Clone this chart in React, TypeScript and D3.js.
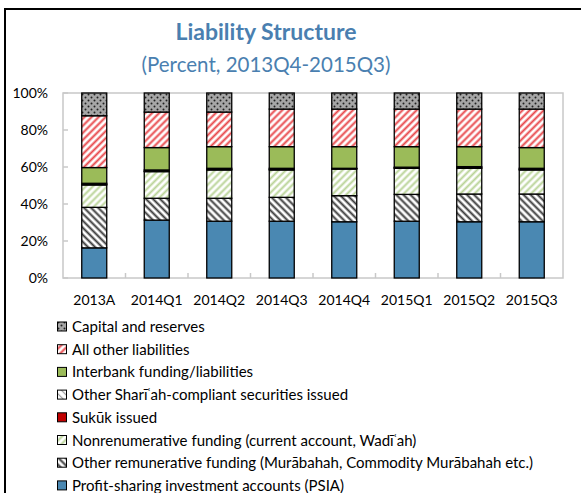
import React, { useEffect, useRef } from 'react';
import * as d3 from 'd3';

const categories = ['2013A', '2014Q1', '2014Q2', '2014Q3', '2014Q4', '2015Q1', '2015Q2', '2015Q3'];

// stacked bottom -> top
const psia = [16.3, 31.3, 30.7, 30.7, 30.4, 30.7, 30.4, 30.4];
const otherRemunerative = [21.9, 11.8, 12.4, 12.9, 14.1, 14.5, 15.0, 15.0];
const nonRemunerative = [12.1, 14.4, 15.3, 14.8, 14.4, 14.1, 13.9, 13.0];
const sukuk = [0.3, 0.3, 0.3, 0.3, 0.2, 0.2, 0.3, 0.3];
const otherShariah = [0.6, 0.6, 0.6, 0.6, 0.2, 0.4, 0.6, 0.6];
const interbank = [8.5, 12.1, 11.7, 11.7, 11.7, 11.1, 10.8, 11.2];
const allOther = [28.0, 19.2, 18.7, 20.3, 20.3, 20.3, 20.3, 20.8];
const capital = [12.3, 10.3, 10.3, 8.7, 8.7, 8.7, 8.7, 8.7];

const seriesNames = [
  'Profit-sharing investment accounts (PSIA)',
  'Other remunerative funding (Murābahah, Commodity Murābahah etc.)',
  'Nonrenumerative funding (current account, Wadīʿah)',
  'Sukūk issued',
  'Other Sharīʿah-compliant securities issued',
  'Interbank funding/liabilities',
  'All other liabilities',
  'Capital and reserves',
];
const seriesValues = [psia, otherRemunerative, nonRemunerative, sukuk, otherShariah, interbank, allOther, capital];
const seriesFills = [
  '#4a88b2',
  'url(#pOtherRem)',
  'url(#pNonRem)',
  '#c00000',
  'url(#pShariah)',
  '#9bbb59',
  'url(#pAllOther)',
  'url(#pCapital)',
];

const yTicks = [0, 20, 40, 60, 80, 100];

const FONT = 'Lato, "Open Sans", sans-serif';

const App = () => {
  const ref = useRef<SVGSVGElement | null>(null);

  useEffect(() => {
    if (!ref.current) return;
    const svg = d3.select(ref.current);
    svg.selectAll('*').remove();

    const left = 63, right = 563, top = 93, bottom = 278;

    const defs = svg.append('defs');
    const stripes = (id: string, color: string, angle: number, w: number, size: number, bg = '#fff') => {
      const p = defs.append('pattern')
        .attr('id', id)
        .attr('patternUnits', 'userSpaceOnUse')
        .attr('width', size).attr('height', size)
        .attr('patternTransform', `rotate(${angle})`);
      p.append('rect').attr('width', size).attr('height', size).attr('fill', bg);
      p.append('line')
        .attr('x1', size / 2).attr('y1', 0).attr('x2', size / 2).attr('y2', size)
        .attr('stroke', color).attr('stroke-width', w);
    };
    stripes('pAllOther', '#e8474a', 45, 2, 5);
    stripes('pNonRem', '#b9d397', 45, 2, 5);
    stripes('pOtherRem', '#3a3a3a', -45, 2, 5);
    stripes('pShariah', '#a0a0a0', -45, 1.2, 5);

    const dots = defs.append('pattern')
      .attr('id', 'pCapital')
      .attr('patternUnits', 'userSpaceOnUse')
      .attr('width', 6).attr('height', 6);
    dots.append('rect').attr('width', 6).attr('height', 6).attr('fill', '#a6a6a6');
    dots.append('circle').attr('cx', 1.5).attr('cy', 1.5).attr('r', 1).attr('fill', '#222');
    dots.append('circle').attr('cx', 4.5).attr('cy', 4.5).attr('r', 1).attr('fill', '#222');

    // outer frame
    svg.append('rect')
      .attr('x', 5).attr('y', 9).attr('width', 700).attr('height', 700)
      .attr('fill', 'none').attr('stroke', '#000').attr('stroke-width', 2);

    // titles
    svg.append('text')
      .attr('x', 266).attr('y', 40)
      .attr('text-anchor', 'middle')
      .attr('font-family', FONT).attr('font-weight', 'bold').attr('font-size', 23)
      .attr('fill', '#4a7fb0')
      .text('Liability Structure');
    svg.append('text')
      .attr('x', 266).attr('y', 72)
      .attr('text-anchor', 'middle')
      .attr('font-family', FONT).attr('font-size', 20.5)
      .attr('fill', '#4a7fb0')
      .text('(Percent, 2013Q4-2015Q3)');

    const x = d3.scaleBand<string>()
      .domain(categories)
      .range([left, right])
      .paddingInner(0.6)
      .paddingOuter(0.3);
    const y = d3.scaleLinear().domain([0, 100]).range([bottom, top]);

    // plot frame
    svg.append('rect')
      .attr('x', left).attr('y', top)
      .attr('width', right - left).attr('height', bottom - top)
      .attr('fill', 'none').attr('stroke', '#c8c8c8').attr('stroke-width', 1.5);

    // y ticks (inside)
    svg.append('g')
      .selectAll('line')
      .data(yTicks)
      .enter().append('line')
      .attr('x1', left).attr('x2', left + 5)
      .attr('y1', d => y(d)).attr('y2', d => y(d))
      .attr('stroke', '#c8c8c8').attr('stroke-width', 1.5);
    svg.append('g')
      .selectAll('text')
      .data(yTicks)
      .enter().append('text')
      .attr('x', 48).attr('y', d => y(d) + 5)
      .attr('text-anchor', 'end')
      .attr('font-family', FONT).attr('font-size', 14)
      .attr('fill', '#000')
      .text(d => `${d}%`);

    // x ticks at category boundaries
    const step = x.step();
    svg.append('g')
      .selectAll('line')
      .data(categories.slice(1))
      .enter().append('line')
      .attr('x1', d => (x(d) as number) - x.paddingInner() * step / 2)
      .attr('x2', d => (x(d) as number) - x.paddingInner() * step / 2)
      .attr('y1', bottom).attr('y2', bottom - 5)
      .attr('stroke', '#c8c8c8').attr('stroke-width', 1.5);
    svg.append('g')
      .selectAll('text')
      .data(categories)
      .enter().append('text')
      .attr('x', d => (x(d) as number) + x.bandwidth() / 2)
      .attr('y', 305)
      .attr('text-anchor', 'middle')
      .attr('font-family', FONT).attr('font-size', 14)
      .attr('fill', '#000')
      .text(d => d);

    // stacked bars
    const table = categories.map((c, i) => {
      const row: Record<string, any> = { cat: c };
      seriesNames.forEach((n, k) => { row[n] = seriesValues[k][i]; });
      return row;
    });
    const stacked = d3.stack().keys(seriesNames)(table as any);
    stacked.forEach((layer, k) => {
      svg.append('g')
        .selectAll('rect')
        .data(layer)
        .enter().append('rect')
        .attr('x', (d: any) => x(d.data.cat) as number)
        .attr('width', x.bandwidth())
        .attr('y', d => y(d[1]))
        .attr('height', d => y(d[0]) - y(d[1]))
        .attr('fill', seriesFills[k])
        .attr('stroke', '#000')
        .attr('stroke-width', 1.3);
    });

    // legend (top -> bottom is reverse of stack)
    const legendOrder = seriesNames.map((_, k) => k).reverse();
    const lg = svg.append('g');
    legendOrder.forEach((k, i) => {
      const cy = 327 + i * 22.7;
      lg.append('rect')
        .attr('x', 57.5).attr('y', cy - 5)
        .attr('width', 9).attr('height', 9)
        .attr('fill', seriesFills[k])
        .attr('stroke', '#000').attr('stroke-width', 1);
      lg.append('text')
        .attr('x', 72).attr('y', cy + 5)
        .attr('font-family', FONT).attr('font-size', 15)
        .attr('fill', '#000')
        .text(seriesNames[k]);
    });
  }, []);

  return (
    <div style={{ position: 'absolute', left: 0, top: 0, background: '#fff' }}>
      <svg ref={ref} width={581} height={493} style={{ display: 'block' }} />
    </div>
  );
};

export default App;
